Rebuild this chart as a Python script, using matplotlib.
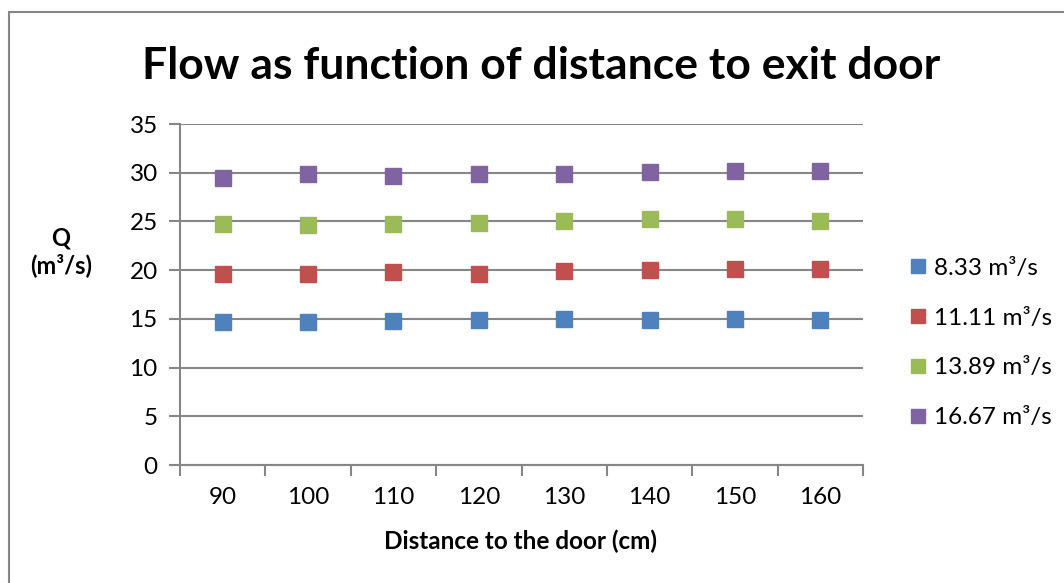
import numpy as np
import matplotlib.pyplot as plt
from matplotlib.patches import Rectangle

distances = [90, 100, 110, 120, 130, 140, 150, 160]
series_names = ["8.33 m³/s", "11.11 m³/s", "13.89 m³/s", "16.67 m³/s"]
q_833 = [14.72, 14.72, 14.83, 14.9, 15.0, 14.9, 15.0, 14.9]
q_1111 = [19.63, 19.63, 19.83, 19.63, 19.93, 20.03, 20.13, 20.13]
q_1389 = [24.73, 24.6, 24.73, 24.8, 25.0, 25.27, 25.27, 25.0]
q_1667 = [29.45, 29.83, 29.62, 29.83, 29.83, 30.1, 30.2, 30.2]
colors = ["#4F81BD", "#C0504D", "#9BBB59", "#8064A2"]

plt.rcParams['font.family'] = ['Lato', 'DejaVu Sans']
grid_col = "#868686"

fig = plt.figure(figsize=(10.64, 5.83), dpi=100)
W, H = 1064, 583
# outer chart border
fig.patches.append(Rectangle((9 / W, -0.1), 1.2, 1 - 12 / H + 0.1, transform=fig.transFigure,
                             fill=False, edgecolor=grid_col, linewidth=1.5))

ax = fig.add_axes([180 / W, 1 - 465 / H, (863 - 180) / W, (465 - 124) / H])
x = np.arange(len(distances))
all_series = [q_833, q_1111, q_1389, q_1667]
for vals, name, c in zip(all_series, series_names, colors):
    ax.plot(x, vals, linestyle="none", marker="s", markersize=11, color=c,
            markeredgecolor=c, label=name, zorder=3)

ax.set_xlim(-0.5, len(distances) - 0.5)
ax.set_ylim(0, 35)
ax.set_yticks(np.arange(0, 36, 5))
ax.set_xticks(x)
ax.set_xticklabels([str(d) for d in distances])
ax.set_xticks(np.arange(-0.5, len(distances)), minor=True)
ax.tick_params(axis="x", which="major", length=0, pad=16, labelsize=17.5)
ax.tick_params(axis="x", which="minor", length=8, width=1.5, color=grid_col, direction="out")
ax.tick_params(axis="y", length=8, width=1.5, color=grid_col, direction="out", pad=8, labelsize=17.5)
ax.yaxis.grid(True, color=grid_col, linewidth=1.5)
ax.set_axisbelow(True)
for s in ["top", "right"]:
    ax.spines[s].set_visible(False)
for s in ["left", "bottom"]:
    ax.spines[s].set_color(grid_col)
    ax.spines[s].set_linewidth(1.5)

fig.text(541 / W, 1 - 66 / H, "Flow as function of distance to exit door", ha="center", va="center",
         fontsize=32, fontweight="bold")
fig.text(61 / W, 1 - 252 / H, "Q\n(m³/s)", ha="center", va="center", fontsize=17, fontweight="bold",
         linespacing=1.2)
fig.text(521 / W, 1 - 541 / H, "Distance to the door (cm)", ha="center", va="center", fontsize=17.5,
         fontweight="bold")

ax.legend(loc="center left", bbox_to_anchor=(900 / W, 1 - 343 / H), bbox_transform=fig.transFigure,
          frameon=False, fontsize=17.5, handlelength=0.7, handletextpad=0.3, labelspacing=1.18,
          markerscale=0.9, borderaxespad=0)

fig.savefig("out.png", dpi=100)
